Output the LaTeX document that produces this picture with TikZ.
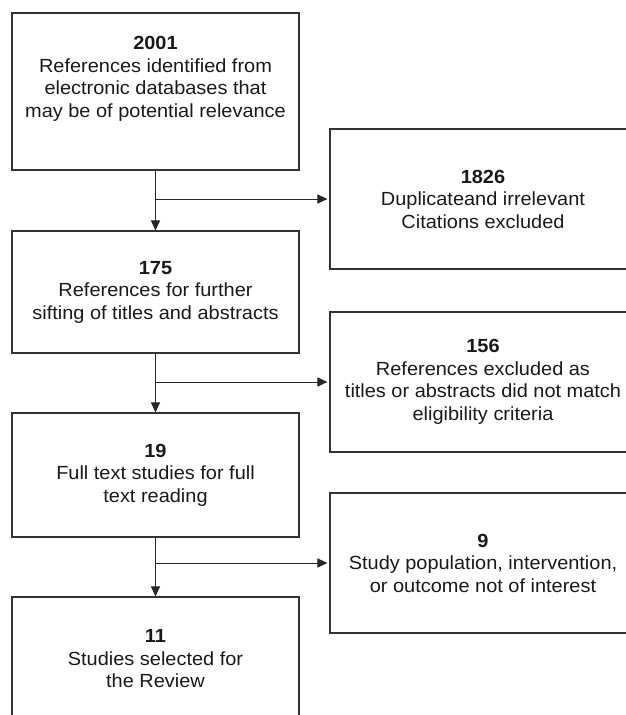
\documentclass[tikz,border=0pt]{standalone}
\usepackage{fontspec}
\setmainfont[FakeStretch=1.05]{Liberation Sans}
\usetikzlibrary{arrows.meta}

\begin{document}
\begin{tikzpicture}[x=1pt, y=-1pt,
    box/.style={draw=black!80, line width=1.1pt, rectangle, align=center,
        inner sep=0pt, font=\fontsize{19}{22.5}\selectfont, text=black!90},
    leftbox/.style={box, minimum width=287pt},
    rightbox/.style={box, minimum width=306pt, minimum height=140pt},
    flow/.style={-{Triangle[length=10pt, width=9pt]}, line width=1pt, black!85}]

\useasboundingbox (0,0) rectangle (626,715);
\clip (0,0) rectangle (626,715);

% =============================================
% COLUMNA IZQUIERDA: etapas de seleccion
% =============================================
\node[leftbox, minimum height=157pt] (ident) at (155.5,91.5)
    {\textbf{2001}\\References identified from\\electronic databases that\\may be of potential relevance\\ \strut};
\node[leftbox, minimum height=122pt] (sift) at (155.5,292)
    {\textbf{175}\\References for further\\sifting of titles and abstracts};
\node[leftbox, minimum height=124pt] (full) at (155.5,475)
    {\textbf{19}\\Full text studies for full\\text reading};
\node[leftbox, minimum height=124pt] (review) at (155.5,659)
    {\textbf{11}\\Studies selected for\\the Review};

% =============================================
% COLUMNA DERECHA: exclusiones
% =============================================
\node[rightbox] (dup) at (483,199)
    {\textbf{1826}\\Duplicateand irrelevant\\Citations excluded};
\node[rightbox] (noelig) at (483,382)
    {\textbf{156}\\References excluded as\\titles or abstracts did not match\\eligibility criteria};
\node[rightbox] (nointer) at (483,563)
    {\textbf{9}\\Study population, intervention,\\or outcome not of interest};

% =============================================
% FLECHAS
% =============================================
\draw[flow] (ident) -- (sift);
\draw[flow] (sift) -- (full);
\draw[flow] (full) -- (review);

\draw[flow, shorten >=2pt] (ident.south |- dup.west) -- (dup.west);
\draw[flow, shorten >=2pt] (sift.south |- noelig.west) -- (noelig.west);
\draw[flow, shorten >=2pt] (full.south |- nointer.west) -- (nointer.west);

\end{tikzpicture}
\end{document}
